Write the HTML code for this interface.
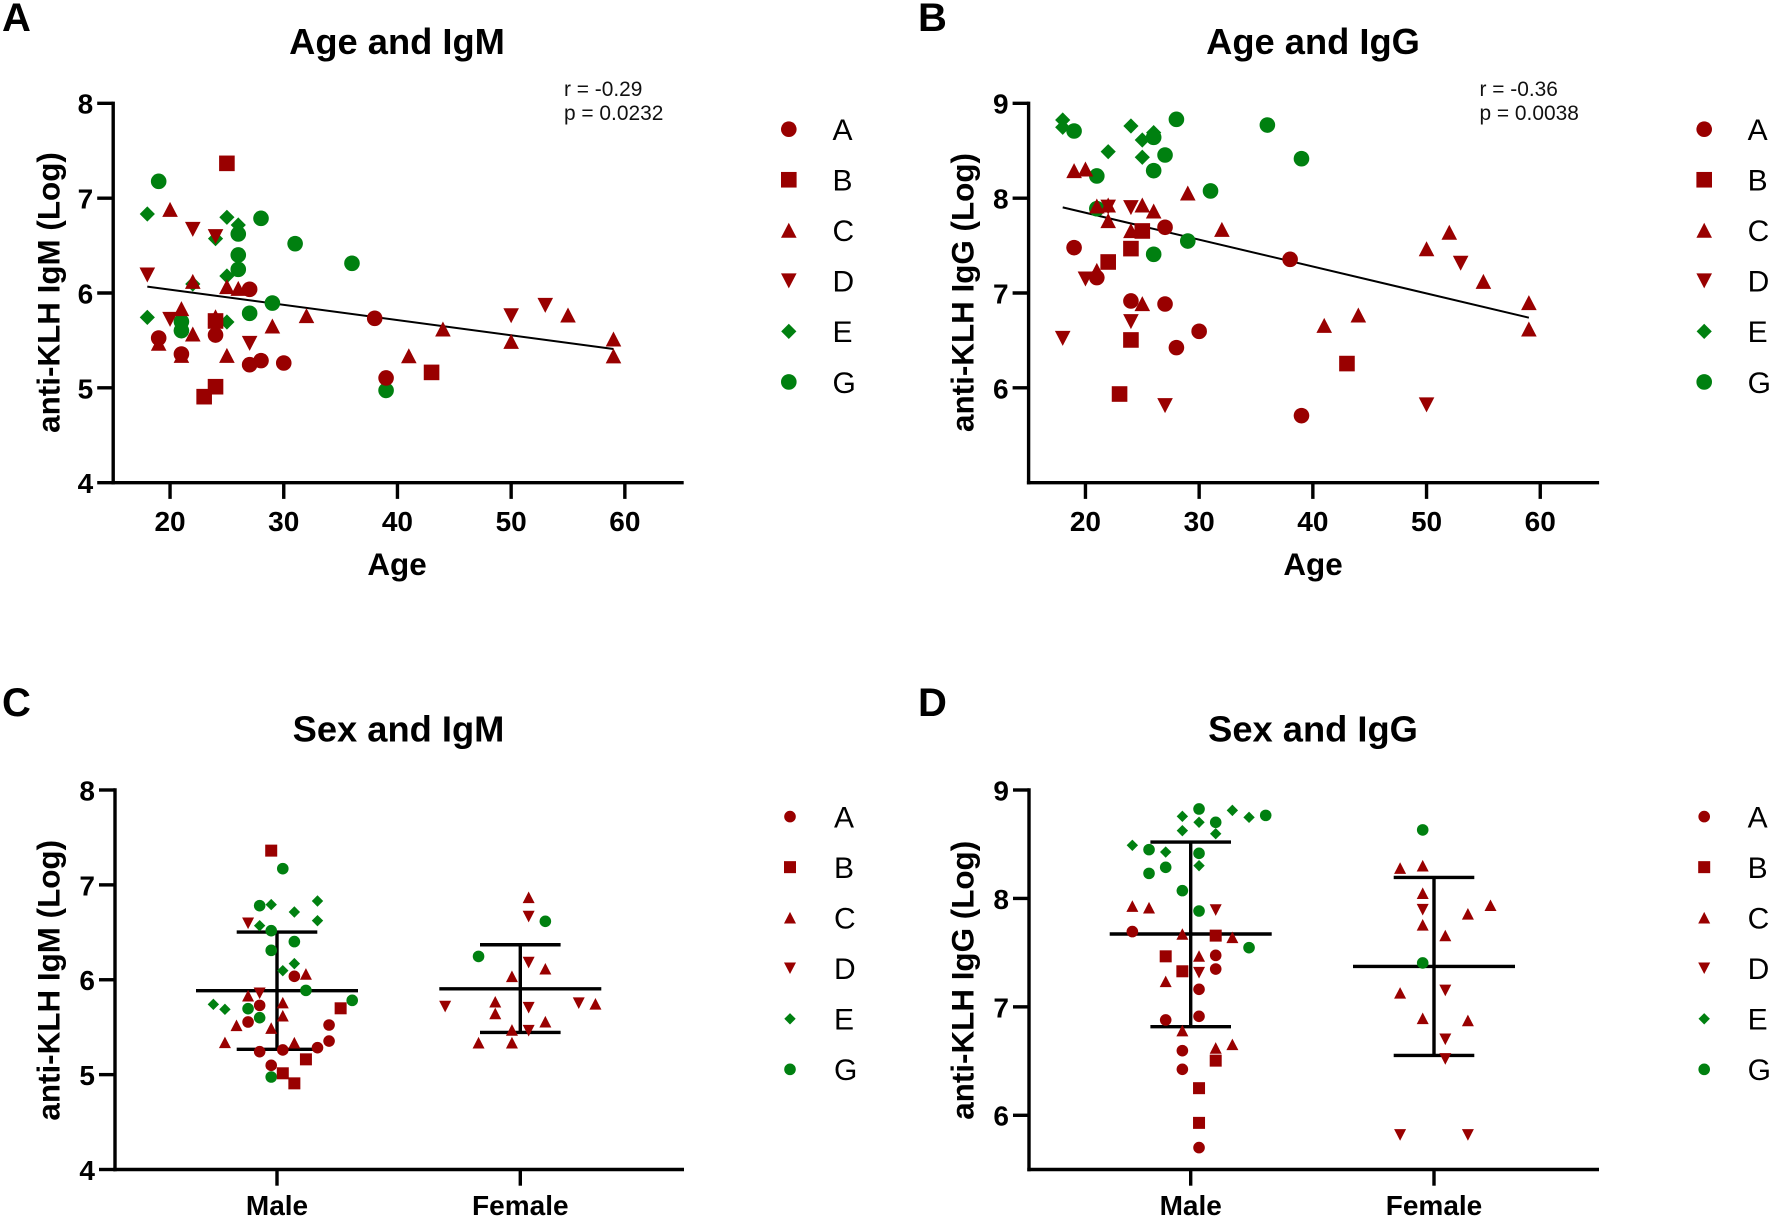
<!DOCTYPE html>
<html lang="en">
<head>
<meta charset="utf-8">
<title>anti-KLH antibodies by age and sex</title>
<style>
html,body{margin:0;padding:0;background:#fff}
svg{display:block}
text{font-family:"Liberation Sans",Arial,sans-serif;fill:#000}
.letter{font-size:40px;font-weight:700}
.title{font-size:36.3px;font-weight:700;text-anchor:middle}
.axt{font-size:31.4px;font-weight:700;text-anchor:middle}
.note{font-size:20.9px;fill:#111}
</style>
</head>
<body>
<svg id="fig" xmlns="http://www.w3.org/2000/svg" width="1772" height="1219" viewBox="0 0 1772 1219">
  <rect width="1772" height="1219" fill="#fff"/>
  <g id="panelA">
    <text class="letter" x="2" y="31">A</text>
    <text class="title" x="397" y="54">Age and IgM</text>
    <text class="axt" x="397" y="575">Age</text>
    <text class="axt" transform="translate(59.3,292.5) rotate(-90)">anti-KLH IgM (Log)</text>
    <text class="note" x="564" y="96">r = -0.29</text>
    <text class="note" x="564" y="120">p = 0.0232</text>
  </g>
  <g id="panelB">
    <text class="letter" x="918" y="31">B</text>
    <text class="title" x="1313" y="54">Age and IgG</text>
    <text class="axt" x="1313" y="575">Age</text>
    <text class="axt" transform="translate(973.6,292.5) rotate(-90)">anti-KLH IgG (Log)</text>
    <text class="note" x="1479.5" y="96">r = -0.36</text>
    <text class="note" x="1479.5" y="120">p = 0.0038</text>
  </g>
  <g id="panelC">
    <text class="letter" x="2" y="716">C</text>
    <text class="title" x="398.5" y="741.5">Sex and IgM</text>
    <text class="axt" transform="translate(59.3,980.3) rotate(-90)">anti-KLH IgM (Log)</text>
  </g>
  <g id="panelD">
    <text class="letter" x="918" y="716">D</text>
    <text class="title" x="1313" y="741.5">Sex and IgG</text>
    <text class="axt" transform="translate(973.6,980.3) rotate(-90)">anti-KLH IgG (Log)</text>
  </g>
</svg>
<script>
// ---------- shared labels ----------
const legendLabels = ['A','B','C','D','E','G'];
const ageTicks = [20,30,40,50,60];
const igmTicks = [4,5,6,7,8];
const iggTicks = [6,7,8,9];
const sexCategories = ['Male','Female'];

// ---------- Panel A: [age, log IgM] ----------
const ageIgmA = [[19,5.525],[21,5.357],[24,5.557],[27,5.244],[28,5.287],[27,6.039],[30,5.262],[38,5.733],[39,5.104]];
const ageIgmB = [[25,7.367],[24,5.705],[23,4.907],[24,5.012],[43,5.163]];
const ageIgmC = [[20,6.882],[19,5.47],[21,5.835],[21,5.343],[22,6.123],[22,5.568],[24,5.75],[25,6.067],[25,5.343],[26,6.049],[29,5.652],[32,5.761],[41,5.339],[44,5.62],[50,5.49],[55,5.768],[59,5.515],[59,5.337]];
const ageIgmD = [[18,6.19],[20,5.722],[22,6.671],[24,6.594],[27,5.469],[50,5.76],[53,5.869]];
const ageIgmE = [[18,6.833],[18,5.743],[22,6.095],[24,6.573],[25,6.798],[25,6.179],[25,5.694],[26,6.717]];
const ageIgmG = [[19,7.177],[21,5.698],[21,5.603],[26,6.622],[26,6.401],[26,6.249],[27,5.786],[28,6.787],[29,5.894],[31,6.52],[36,6.313],[39,4.973]];
const ageIgmTrend = [[18,6.067],[59,5.41]];

// ---------- Panel B: [age, log IgG] ----------
const ageIggA = [[19,7.478],[21,7.162],[24,6.916],[27,7.693],[27,6.884],[28,6.424],[30,6.596],[38,7.355],[39,5.707]];
const ageIggB = [[22,7.327],[23,5.935],[24,7.468],[24,6.505],[25,7.654],[43,6.256]];
const ageIggC = [[19,8.29],[20,8.307],[21,7.917],[21,7.239],[22,7.928],[22,7.763],[24,7.657],[25,7.928],[25,6.888],[26,7.865],[29,8.054],[32,7.671],[41,6.659],[44,6.768],[50,7.467],[52,7.64],[55,7.123],[59,6.898],[59,6.62]];
const ageIggD = [[18,6.522],[20,7.148],[22,7.905],[24,7.9],[24,6.698],[27,5.812],[50,5.82],[53,7.314]];
const ageIggE = [[18,8.824],[18,8.747],[22,8.49],[24,8.761],[25,8.613],[25,8.431],[26,8.691]];
const ageIggG = [[19,8.708],[21,8.234],[21,7.889],[26,8.641],[26,8.29],[26,7.408],[27,8.455],[28,8.831],[29,7.548],[31,8.076],[36,8.771],[39,8.416]];
const ageIggTrend = [[18,7.903],[59,6.74]];

// ---------- Panel C: [group, swarm slot, log IgM] ----------
const sexIgmA = [[0,1.5,6.036],[0,-1.5,5.73],[0,-2.5,5.555],[0,4.5,5.523],[0,4.5,5.354],[0,3.5,5.284],[0,-1.5,5.242],[0,0.5,5.26],[0,-0.5,5.098]];
const sexIgmB = [[0,-0.5,7.361],[0,5.5,5.699],[0,2.5,5.161],[0,0.5,5.014],[0,1.5,4.908]];
const sexIgmC = [[0,2.5,6.061],[0,-2.5,5.832],[0,0.5,5.759],[0,0.5,5.621],[0,-3.5,5.52],[0,-0.5,5.491],[0,-4.5,5.34],[0,1.5,5.337],
  [1,0.5,6.869],[1,1.5,6.116],[1,-0.5,6.036],[1,-1.5,5.768],[1,-1.5,5.645],[1,1.5,5.558],[1,-0.5,5.471],[1,-2.5,5.337],[1,-0.5,5.337],[1,4.5,5.746]];
const sexIgmD = [[0,-2.5,6.595],[0,-1.5,5.857],[1,0.5,6.666],[1,0.5,6.181],[1,0.5,5.706],[1,-4.5,5.717],[1,3.5,5.753],[1,0.5,5.463]];
const sexIgmE = [[0,-0.5,6.792],[0,3.5,6.83],[0,1.5,6.714],[0,3.5,6.623],[0,-1.5,6.57],[0,1.5,6.17],[0,0.5,6.096],[0,-5.5,5.741],[0,-4.5,5.688]];
const sexIgmG = [[0,0.5,7.171],[0,-1.5,6.781],[0,-0.5,6.517],[0,1.5,6.402],[0,-0.5,6.31],[0,2.5,5.888],[0,6.5,5.783],[0,-2.5,5.695],[0,-1.5,5.6],[0,-0.5,4.975],[1,1.5,6.616],[1,-2.5,6.246]];
const sexIgmMean = [5.885,5.905];
const sexIgmUpper = [6.503,6.369];
const sexIgmLower = [5.267,5.445];

// ---------- Panel D: [group, swarm slot, log IgG] ----------
const sexIggA = [[0,-3.5,7.694],[0,1.5,7.475],[0,1.5,7.349],[0,0.5,7.162],[0,0.5,6.913],[0,-1.5,6.879],[0,-0.5,6.596],[0,-0.5,6.424],[0,0.5,5.702]];
const sexIggB = [[0,1.5,7.657],[0,-1.5,7.466],[0,-0.5,7.328],[0,1.5,6.504],[0,0.5,6.25],[0,0.5,5.93]];
const sexIggC = [[0,-3.5,7.93],[0,-2.5,7.915],[0,-0.5,7.672],[0,2.5,7.641],[0,0.5,7.469],[0,-1.5,7.235],[0,-0.5,6.781],[0,2.5,6.654],[0,1.5,6.621],
  [1,-1.5,8.28],[1,-0.5,8.302],[1,-0.5,8.048],[1,2.5,7.937],[1,1.5,7.858],[1,-0.5,7.757],[1,0.5,7.658],[1,-1.5,7.129],[1,-0.5,6.894],[1,1.5,6.875]];
const sexIggD = [[0,1.5,7.893],[0,0.5,7.315],[1,-0.5,7.896],[1,0.5,7.151],[1,0.5,6.701],[1,0.5,6.52],[1,-1.5,5.819],[1,1.5,5.819]];
const sexIggE = [[0,-0.5,8.757],[0,0.5,8.702],[0,2.5,8.812],[0,3.5,8.748],[0,-0.5,8.625],[0,1.5,8.597],[0,-3.5,8.49],[0,-1.5,8.428],[0,0.5,8.302]];
const sexIggG = [[0,0.5,8.825],[0,4.5,8.766],[0,1.5,8.702],[0,-2.5,8.45],[0,0.5,8.416],[0,-1.5,8.287],[0,-2.5,8.231],[0,-0.5,8.072],[0,0.5,7.884],[0,3.5,7.546],[1,-0.5,8.632],[1,-0.5,7.405]];
const sexIggMean = [7.672,7.373];
const sexIggUpper = [8.52,8.194];
const sexIggLower = [6.817,6.552];

// ---------- rendering ----------
const NS = 'http://www.w3.org/2000/svg';
const RED = '#990000';
const GREEN = '#008010';
const shapeNames = ['circle','square','triangle','inverted-triangle','diamond','circle'];
const seriesColors = [RED,RED,RED,RED,GREEN,GREEN];
const drawOrder = [4,5,3,2,1,0]; // E, G, D, C, B, A back to front

function svgEl(parent, tag, attrs, text) {
  const el = document.createElementNS(NS, tag);
  for (const k in attrs) el.setAttribute(k, attrs[k]);
  if (text !== undefined) el.textContent = text;
  parent.appendChild(el);
  return el;
}
function marker(parent, shape, cx, cy, large, color) {
  const w = large ? 15.6 : 12, h = large ? 15 : 11.6, d = large ? 15.2 : 11.4, r = large ? 7.8 : 5.8;
  if (shape === 'circle') return svgEl(parent, 'circle', {cx: cx, cy: cy, r: r, fill: color});
  if (shape === 'square') return svgEl(parent, 'rect', {x: cx - w / 2, y: cy - w / 2, width: w, height: w, fill: color});
  let pts;
  if (shape === 'triangle') pts = [[cx, cy - h / 2], [cx + w / 2, cy + h / 2], [cx - w / 2, cy + h / 2]];
  else if (shape === 'inverted-triangle') pts = [[cx, cy + h / 2], [cx + w / 2, cy - h / 2], [cx - w / 2, cy - h / 2]];
  else pts = [[cx, cy - d / 2], [cx + d / 2, cy], [cx, cy + d / 2], [cx - d / 2, cy]];
  return svgEl(parent, 'polygon', {points: pts.map(p => p.join(',')).join(' '), fill: color});
}
function line(parent, x1, y1, x2, y2, sw) {
  return svgEl(parent, 'line', {x1: x1, y1: y1, x2: x2, y2: y2, stroke: '#000', 'stroke-width': sw});
}
function drawFrame(panel, key, axisX, rightX, topY, bottomY, yScale, yTicks) {
  const g = svgEl(panel, 'g', {});
  
  
  const yAxis = line(g, axisX, topY - 1.7, axisX, bottomY + 1.7, 3.4);
  
  
  const xAxis = line(g, axisX - 1.7, bottomY, rightX, bottomY, 3.4);
  
  
  yTicks.forEach(function (t) {
    const y = yScale(t);
    line(g, axisX - 16, y, axisX, y, 3.4);
    const label = svgEl(g, 'text', {x: axisX - 20, y: y + 10.4, 'text-anchor': 'end', 'font-size': 28, 'font-weight': 700}, String(t));
    
    
  });
}
function drawXTicks(panel, bottomY, labelY, labels, positions) {
  labels.forEach(function (t, i) {
    line(panel, positions[i], bottomY, positions[i], bottomY + 16.2, 3.4);
    const label = svgEl(panel, 'text', {x: positions[i], y: labelY, 'text-anchor': 'middle', 'font-size': 28, 'font-weight': 700}, String(t));
    
    
  });
}
function drawLegend(panel, key, markerX, textX, firstY, large) {
  const g = svgEl(panel, 'g', {});
  
  
  legendLabels.forEach(function (s, i) {
    const y = firstY + i * 50.55;
    const m = marker(g, shapeNames[i], markerX, y, large, seriesColors[i]);
    
    
    const t = svgEl(g, 'text', {x: textX, y: y + 10.8, 'font-size': 30}, s);
    
    
  });
}
function agePanel(panelId, key, originX, yTop, yBottom, yMax, yMin, yTicks, series, trend, legendMarkerX, legendTextX) {
  const panel = document.getElementById(panelId);
  const xScale = v => originX + (v - 15) * 11.37;
  const yScale = v => yTop + (yMax - v) * (yBottom - yTop) / (yMax - yMin);
  drawFrame(panel, key, xScale(15), xScale(65) + 2, yTop, yBottom, yScale, yTicks);
  drawXTicks(panel, yBottom, 531, ageTicks, ageTicks.map(xScale));
  const tr = line(panel, xScale(trend[0][0]), yScale(trend[0][1]), xScale(trend[1][0]), yScale(trend[1][1]), 2);
  
  
  drawOrder.forEach(function (si) {
    const g = svgEl(panel, 'g', {});
    
    
    series[si].forEach(function (p) {
      const m = marker(g, shapeNames[si], xScale(p[0]), yScale(p[1]), true, seriesColors[si]);
      
      
    });
  });
  drawLegend(panel, key, legendMarkerX, legendTextX, 129.2, true);
}
function sexPanel(panelId, key, axisX, rightX, centers, steps, yMax, yMin, yTicks, series, means, uppers, lowers, legendMarkerX, legendTextX) {
  const panel = document.getElementById(panelId);
  const yTop = 790, yBottom = 1169.5;
  const yScale = v => yTop + (yMax - v) * (yBottom - yTop) / (yMax - yMin);
  const xScale = (group, slot) => centers[group] + slot * steps[group];
  drawFrame(panel, key, axisX, rightX, yTop, yBottom, yScale, yTicks);
  drawXTicks(panel, yBottom, 1215, sexCategories, centers);
  sexCategories.forEach(function (c, i) {
    const g = svgEl(panel, 'g', {});
    
    
    line(g, centers[i], yScale(uppers[i]), centers[i], yScale(lowers[i]), 3.4);
    line(g, centers[i] - 81, yScale(means[i]), centers[i] + 81, yScale(means[i]), 3.4);
    line(g, centers[i] - 40.3, yScale(uppers[i]), centers[i] + 40.3, yScale(uppers[i]), 3.4);
    line(g, centers[i] - 40.3, yScale(lowers[i]), centers[i] + 40.3, yScale(lowers[i]), 3.4);
  });
  drawOrder.forEach(function (si) {
    const g = svgEl(panel, 'g', {});
    
    
    series[si].forEach(function (p) {
      const m = marker(g, shapeNames[si], xScale(p[0], p[1]), yScale(p[2]), false, seriesColors[si]);
      
      
    });
  });
  drawLegend(panel, key, legendMarkerX, legendTextX, 816.6, false);
}

agePanel('panelA', 'a', 113.2, 103.3, 482.7, 8, 4, igmTicks,
  [ageIgmA, ageIgmB, ageIgmC, ageIgmD, ageIgmE, ageIgmG], ageIgmTrend, 788.8, 832.5);
agePanel('panelB', 'b', 1028.6, 103.3, 482.7, 9, 5, iggTicks,
  [ageIggA, ageIggB, ageIggC, ageIggD, ageIggE, ageIggG], ageIggTrend, 1704.2, 1747.6);
sexPanel('panelC', 'c', 115, 684, [277, 520.3], [11.57, 16.7], 8, 4, igmTicks,
  [sexIgmA, sexIgmB, sexIgmC, sexIgmD, sexIgmE, sexIgmG], sexIgmMean, sexIgmUpper, sexIgmLower, 790, 834);
sexPanel('panelD', 'd', 1029, 1599, [1190.7, 1434], [16.67, 22.6], 9, 5.5, iggTicks,
  [sexIggA, sexIggB, sexIggC, sexIggD, sexIggE, sexIggG], sexIggMean, sexIggUpper, sexIggLower, 1704.2, 1747.6);
</script>
</body>
</html>
